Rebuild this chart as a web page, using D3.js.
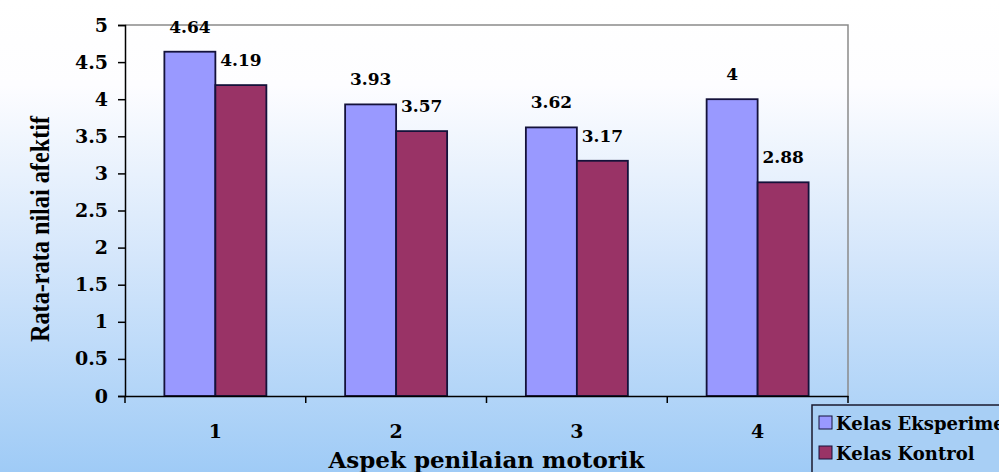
<!DOCTYPE html>
<html>
<head>
<meta charset="utf-8">
<script src="https://cdn.jsdelivr.net/npm/d3@7"></script>
<style>
  html, body { margin: 0; padding: 0; overflow: hidden; }
  svg { display: block; }
  text { font-family: "DejaVu Serif", "Liberation Serif", serif; font-weight: bold; fill: #000; }
</style>
</head>
<body>
<div id="container"></div>
<script>
/* DATA */
const categories = ["1", "2", "3", "4"];
const seriesNames = ["Kelas Eksperimen", "Kelas Kontrol"];
const eksperimen = [4.64, 3.93, 3.62, 4];
const kontrol = [4.19, 3.57, 3.17, 2.88];
const yTicks = [0, 0.5, 1, 1.5, 2, 2.5, 3, 3.5, 4, 4.5, 5];
const colors = ["#9999ff", "#993366"];

/* CONSTANTS */
const width = 999,
  height = 472,
  plotLeft = 125, plotRight = 848, plotTop = 25, plotBottom = 396;

const svg = d3.select("#container")
  .append("svg")
  .attr("width", width)
  .attr("height", height);

// background gradient (white -> light blue)
const defs = svg.append("defs");
const grad = defs.append("linearGradient")
  .attr("id", "bg")
  .attr("x1", 0).attr("y1", 0).attr("x2", 0).attr("y2", 1);
grad.append("stop").attr("offset", "0%").attr("stop-color", "#ffffff");
grad.append("stop").attr("offset", "18%").attr("stop-color", "#fdfdff");
grad.append("stop").attr("offset", "55%").attr("stop-color", "#d4e6fb");
grad.append("stop").attr("offset", "100%").attr("stop-color", "#9fcbf6");

svg.append("rect")
  .attr("width", width).attr("height", height)
  .attr("fill", "url(#bg)");

// scales
const xScale = d3.scaleBand()
  .domain(categories)
  .range([plotLeft, plotRight]);

const yScale = d3.scaleLinear()
  .domain([0, 5])
  .range([plotBottom, plotTop]);

const groupW = 102;
const xSub = d3.scaleBand()
  .domain(seriesNames)
  .range([0, groupW]);

// plot area border (top and right, grey)
svg.append("path")
  .attr("d", `M${plotLeft},${plotTop}H${plotRight}V${plotBottom}`)
  .attr("fill", "none")
  .attr("stroke", "#8a8a8a")
  .attr("stroke-width", 1.5);

// bars
const rows = categories.map((c, i) => ({ cat: c, vals: [eksperimen[i], kontrol[i]] }));

const groups = svg.selectAll(".grp")
  .data(rows)
  .join("g")
  .attr("class", "grp")
  .attr("transform", d => `translate(${xScale(d.cat) + (xScale.bandwidth() - groupW) / 2},0)`);

groups.selectAll("rect")
  .data(d => d.vals.map((v, j) => ({ v, s: seriesNames[j], j })))
  .join("rect")
  .attr("x", d => xSub(d.s))
  .attr("y", d => yScale(d.v))
  .attr("width", xSub.bandwidth())
  .attr("height", d => yScale(0) - yScale(d.v))
  .attr("fill", d => colors[d.j])
  .attr("stroke", "#14123a")
  .attr("stroke-width", 1.8);

groups.selectAll(".lbl")
  .data(d => d.vals.map((v, j) => ({ v, s: seriesNames[j] })))
  .join("text")
  .attr("class", "lbl")
  .attr("x", d => xSub(d.s) + xSub.bandwidth() / 2)
  .attr("y", d => yScale(d.v) - 25)
  .attr("text-anchor", "middle")
  .attr("dominant-baseline", "central")
  .style("font-size", "17px")
  .text(d => d.v);

// axes
const yAxis = d3.axisLeft(yScale)
  .tickValues(yTicks)
  .tickSize(7)
  .tickPadding(10)
  .tickFormat(d => d);
const gy = svg.append("g")
  .attr("transform", `translate(${plotLeft},0)`)
  .call(yAxis);
gy.selectAll("line, path").attr("stroke", "#000").attr("stroke-width", 1.5);
gy.selectAll("text").style("font-size", "19px").attr("font-family", null);

const xAxis = d3.axisBottom(xScale)
  .tickSize(0)
  .tickPadding(29)
  .tickSizeOuter(0);
const gx = svg.append("g")
  .attr("transform", `translate(0,${plotBottom})`)
  .call(xAxis);
gx.selectAll("path").attr("stroke", "#000").attr("stroke-width", 1.5);
gx.selectAll("text").style("font-size", "19px").attr("font-family", null);

// category boundary ticks
gx.selectAll(".sep")
  .data(categories.map(c => xScale(c)).concat([plotRight]))
  .join("line")
  .attr("class", "sep")
  .attr("x1", d => d).attr("x2", d => d)
  .attr("y1", 0).attr("y2", 7)
  .attr("stroke", "#000")
  .attr("stroke-width", 1.5);

// axis titles
svg.append("text")
  .attr("x", (plotLeft + plotRight) / 2)
  .attr("y", 459)
  .attr("text-anchor", "middle")
  .attr("dominant-baseline", "central")
  .style("font-size", "23px")
  .text("Aspek penilaian motorik");

svg.append("text")
  .attr("transform", "translate(40,229) rotate(-90)")
  .attr("text-anchor", "middle")
  .attr("dominant-baseline", "central")
  .attr("textLength", 226)
  .attr("lengthAdjust", "spacingAndGlyphs")
  .style("font-family", "'Liberation Serif', serif")
  .style("font-size", "27px")
  .text("Rata-rata nilai afektif");

// legend
const legend = svg.append("g").attr("transform", "translate(812,405)");
legend.append("rect")
  .attr("width", 200).attr("height", 80)
  .attr("fill", "#a8cff5")
  .attr("stroke", "#1a1a2e")
  .attr("stroke-width", 1.5);

const items = legend.selectAll(".item")
  .data(seriesNames)
  .join("g")
  .attr("class", "item")
  .attr("transform", (d, i) => `translate(7,${11 + i * 30})`);

items.append("rect")
  .attr("width", 13).attr("height", 13)
  .attr("fill", (d, i) => colors[i])
  .attr("stroke", "#14123a")
  .attr("stroke-width", 1);

items.append("text")
  .attr("x", 17)
  .attr("y", 7)
  .attr("dominant-baseline", "central")
  .style("font-size", "18px")
  .text(d => d);
</script>
</body>
</html>
